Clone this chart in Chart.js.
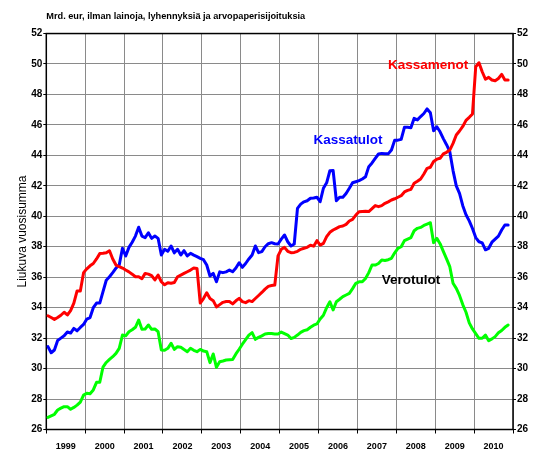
<!DOCTYPE html>
<html><head><meta charset="utf-8">
<script src="https://cdn.jsdelivr.net/npm/chart.js@4.4.0/dist/chart.umd.min.js"></script>
<style>html,body{margin:0;padding:0;background:#fff}#wrap{position:relative;width:533px;height:461px}</style>
</head><body><div id="wrap"><canvas id="c" width="533" height="461"></canvas></div>
<script>
// Year categories (each spans 12 monthly points)
const years = ['1999','2000','2001','2002','2003','2004','2005','2006','2007','2008','2009','2010'];

// Monthly rolling 12-month sums, bn EUR, Jan 1999 ... Nov 2010
const kassamenot = [
 33.47,33.35,33.23,33.35,33.5,33.7,33.52,33.8,34.3,35.1,35.1,36.3,
 36.55,36.75,36.9,37.2,37.55,37.57,37.6,37.74,37.2,36.8,36.7,36.6,
 36.47,36.35,36.2,36.03,36.03,35.9,36.25,36.2,36.1,35.82,36.14,35.7,
 35.5,35.64,35.6,35.65,36.03,36.14,36.25,36.36,36.47,36.6,36.58,34.3,
 34.6,34.98,34.6,34.46,34.05,34.2,34.35,34.4,34.4,34.25,34.45,34.61,
 34.4,34.33,34.46,34.4,34.6,34.8,35.0,35.22,35.4,35.45,35.49,37.4,
 37.83,37.96,37.7,37.61,37.63,37.7,37.83,37.9,37.96,38.1,38.04,38.4,
 38.11,38.22,38.66,38.95,39.1,39.21,39.32,39.36,39.47,39.69,39.8,40.08,
 40.3,40.32,40.33,40.31,40.5,40.7,40.63,40.7,40.85,40.95,41.07,41.15,
 41.25,41.35,41.6,41.7,41.77,42.17,42.3,42.45,42.78,43.15,43.22,43.6,
 43.75,43.81,44.1,44.2,44.35,44.79,45.34,45.6,45.9,46.3,46.5,46.72,
 49.82,50.08,49.49,49.0,49.12,48.95,48.9,49.05,49.32,48.95,48.95
];
const kassatulot = [
 31.44,31.04,31.22,31.85,32.0,32.15,32.4,32.33,32.64,32.48,32.7,32.9,
 33.25,33.35,34.0,34.3,34.3,35.05,35.8,36.03,36.3,36.6,36.8,37.9,
 37.39,37.96,38.3,38.7,39.28,38.7,38.6,38.92,38.55,38.7,38.55,37.46,
 37.83,37.7,38.05,37.6,37.83,37.46,37.74,37.4,37.57,37.45,37.35,37.24,
 37.15,36.8,36.08,36.25,35.7,36.35,36.3,36.35,36.47,36.36,36.6,36.95,
 36.65,36.9,37.2,37.46,38.05,37.61,37.68,38.0,38.2,38.27,38.2,38.18,
 38.5,38.77,38.33,38.05,38.18,40.52,40.8,40.95,41.02,41.18,41.2,41.25,
 40.96,41.84,42.2,42.99,43.0,41.02,41.25,41.25,41.5,41.84,42.2,42.27,
 42.34,42.45,42.6,43.26,43.5,43.8,44.09,44.13,44.1,44.1,44.35,45.0,
 45.0,45.05,45.84,45.85,45.82,46.43,46.33,46.55,46.75,47.05,46.8,45.62,
 45.88,45.55,45.1,44.7,44.24,43.0,42.0,41.5,40.7,40.1,39.7,39.2,
 38.6,38.33,38.25,37.8,37.9,38.3,38.5,38.7,39.1,39.43,39.43
];
const verotulot = [
 26.8,26.9,27.0,27.28,27.4,27.5,27.5,27.33,27.45,27.6,27.8,28.26,
 28.38,28.35,28.6,29.1,29.1,30.1,30.4,30.6,30.78,31.0,31.33,32.2,
 32.15,32.42,32.55,32.71,33.19,32.58,32.6,32.86,32.58,32.6,32.42,31.22,
 31.2,31.33,31.66,31.26,31.44,31.4,31.25,31.11,31.33,31.2,31.11,31.26,
 31.15,31.11,30.39,30.96,30.08,30.45,30.5,30.56,30.58,30.6,30.96,31.27,
 31.6,31.9,32.2,32.36,31.92,32.05,32.15,32.27,32.3,32.3,32.27,32.27,
 32.4,32.3,32.2,31.97,32.05,32.2,32.38,32.49,32.55,32.71,32.85,32.93,
 33.26,33.5,34.0,34.39,33.85,34.39,34.55,34.72,34.83,34.94,35.25,35.6,
 35.7,35.7,35.92,36.3,36.8,36.8,36.9,37.13,37.1,37.15,37.24,37.6,
 37.9,38.0,38.4,38.5,38.6,39.05,39.21,39.27,39.4,39.49,39.58,38.27,
 38.55,38.2,37.7,37.2,36.69,35.6,35.27,34.8,34.2,33.7,33.0,32.6,
 32.3,31.99,31.99,32.2,31.83,31.95,32.1,32.35,32.5,32.71,32.86
];

const yMin = 26, yMax = 52, yStep = 2;
const titleText = 'Mrd. eur, ilman lainoja, lyhennyksiä ja arvopaperisijoituksia';
const yTitle = 'Liukuva vuosisumma';

// in-chart series labels anchored in data coordinates (month index, value)
const seriesLabels = [
  {text:'Kassamenot', color:'#ff0000', x:117.8, y:49.93},
  {text:'Kassatulot', color:'#0000ff', x:93.1, y:45.0},
  {text:'Verotulot', color:'#000000', x:112.5, y:35.77}
];

const FONT = '"Liberation Sans", Arial, sans-serif';
Chart.defaults.font.family = FONT;
Chart.defaults.color = '#000';

const toPts = arr => arr.map((v, i) => ({x: i + 0.5, y: v}));
const months = years.length * 12;
const GRID = '#8a8a8a';

const frame = {
  id: 'frame',
  beforeDatasetsDraw(chart) {
    const a = chart.chartArea, c = chart.ctx;
    c.save(); c.strokeStyle = '#000'; c.lineWidth = 1.5;
    c.strokeRect(a.left, a.top, a.right - a.left, a.bottom - a.top);
    c.restore();
  }
};
const labelsPlugin = {
  id: 'seriesLabels',
  afterDatasetsDraw(chart) {
    const c = chart.ctx, sx = chart.scales.x, sy = chart.scales.y;
    c.save();
    c.font = 'bold 13.5px ' + FONT;
    c.textAlign = 'center'; c.textBaseline = 'middle';
    seriesLabels.forEach(l => { c.fillStyle = l.color; c.fillText(l.text, sx.getPixelForValue(l.x), sy.getPixelForValue(l.y)); });
    c.restore();
  }
};

new Chart(document.getElementById('c'), {
  type: 'line',
  data: {
    datasets: [
      {label:'Verotulot', data: toPts(verotulot), borderColor:'#00ff00'},
      {label:'Kassamenot', data: toPts(kassamenot), borderColor:'#ff0000'},
      {label:'Kassatulot', data: toPts(kassatulot), borderColor:'#0000ff'}
    ].map(d => Object.assign(d, {borderWidth:3, pointRadius:0, fill:false, tension:0, borderJoinStyle:'round', borderCapStyle:'round'}))
  },
  options: {
    responsive: false, animation: false, devicePixelRatio: 1,
    layout: {padding: {left: 15, right: 0, top: 0, bottom: 0}},
    plugins: {
      legend: {display: false}, tooltip: {enabled: false},
      title: {display: true, text: titleText, align: 'start', fullSize: false,
        font: {size: 9.2, weight: 'bold'}, color: '#000', padding: {top: 10.5, bottom: 12}}
    },
    scales: {
      x: {
        type: 'linear', min: 0, max: months,
        afterBuildTicks: s => { s.ticks = []; for (let v = 0; v <= months; v += 6) s.ticks.push({value: v}); },
        ticks: {autoSkip: false, maxRotation: 0, padding: 7.5, font: {size: 9, weight: 'bold'}, color: '#000',
          callback: v => (v % 12 === 6 ? years[(v - 6) / 12] : '')},
        grid: {color: ctx => (ctx.tick && ctx.tick.value % 12 === 0 ? GRID : 'rgba(0,0,0,0)'),
               tickColor: ctx => (ctx.tick && ctx.tick.value % 12 === 0 ? '#000' : 'rgba(0,0,0,0)'),
               tickLength: 4, lineWidth: 1},
        border: {display: false},
        afterFit: s => { s.height = 31.5; }
      },
      y: {
        type: 'linear', position: 'left', min: yMin, max: yMax,
        ticks: {stepSize: yStep, padding: 1, font: {size: 10, weight: 'bold'}, color: '#000'},
        grid: {color: GRID, tickColor: '#000', tickLength: 3, lineWidth: 1},
        border: {display: false},
        title: {display: true, text: yTitle, font: {size: 12}, color: '#000', padding: 0},
        afterFit: s => { s.width = 31.3; }
      },
      y2: {
        type: 'linear', position: 'right', min: yMin, max: yMax,
        ticks: {stepSize: yStep, padding: 1, font: {size: 10, weight: 'bold'}, color: '#000'},
        grid: {drawOnChartArea: false, tickColor: '#000', tickLength: 3},
        border: {display: false},
        afterFit: s => { s.width = 20; }
      }
    }
  },
  plugins: [frame, labelsPlugin]
});
</script></body></html>
